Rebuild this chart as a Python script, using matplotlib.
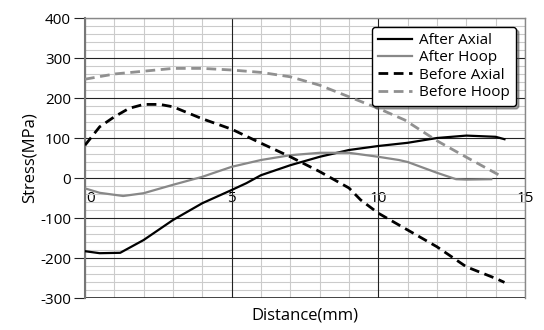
import matplotlib
matplotlib.use("Agg")
import matplotlib.pyplot as plt
from matplotlib.ticker import MultipleLocator
from matplotlib.transforms import ScaledTranslation

plt.rcParams['font.family'] = ['Open Sans', 'DejaVu Sans']
plt.rcParams['axes.unicode_minus'] = False

after_axial_x = [0, 0.5, 1.2, 2, 3, 4, 5, 5.5, 6, 7, 8, 9, 10, 11, 12, 13, 14, 14.3]
after_axial_y = [-183, -188, -187, -155, -105, -63, -30, -13, 7, 32, 53, 70, 80, 88, 100, 106, 103, 97]

after_hoop_x = [0, 0.5, 1.3, 2, 3, 4, 5, 6, 7, 8, 9, 10, 10.7, 11, 12, 12.65, 13, 13.85]
after_hoop_y = [-26, -37, -45, -38, -17, 3, 28, 45, 57, 63, 63, 53, 45, 40, 13, -3, -4, -3]

before_axial_x = [0, 0.5, 1, 1.5, 2, 2.55, 3, 4, 5, 6, 7, 8, 9, 9.4, 10, 11, 12, 13, 14, 14.3]
before_axial_y = [82, 128, 153, 174, 184, 184, 178, 148, 122, 87, 53, 16, -25, -55, -88, -130, -172, -222, -251, -261]

before_hoop_x = [0, 1, 2, 3, 4, 5, 6, 7, 8, 9, 10, 10.9, 12, 13, 14.25]
before_hoop_y = [247, 260, 267, 274, 274, 270, 264, 253, 232, 203, 174, 145, 93, 52, 2]

x_ticks = [0, 5, 10, 15]
y_ticks = [-300, -200, -100, 0, 100, 200, 300, 400]

fig = plt.figure(figsize=(5.44, 3.30), dpi=100)
ax = fig.add_axes([85/544, 1-298/330, 440/544, 280/330])

ax.set_xlim(0, 15)
ax.set_ylim(-300, 400)
ax.set_xticks(x_ticks)
ax.set_yticks(y_ticks)
ax.xaxis.set_minor_locator(MultipleLocator(1))
ax.yaxis.set_minor_locator(MultipleLocator(20))
ax.grid(which='minor', color='#cbcbcb', linewidth=0.8)
ax.set_axisbelow(True)
# major grid drawn above the minor grid
for xv in x_ticks:
    ax.axvline(xv, color='#222222', linewidth=0.8, zorder=0.8)
for yv in y_ticks:
    ax.axhline(yv, color='#222222', linewidth=0.8 if yv != -300 else 1.2, zorder=0.8)

for s in ['top', 'right']:
    ax.spines[s].set_color('#888888')
    ax.spines[s].set_linewidth(1.0)
ax.spines['left'].set_color('#777777')
ax.spines['left'].set_linewidth(1.5)
ax.spines['left'].set_zorder(1.0)
ax.spines['bottom'].set_position(('data', 0))
ax.spines['bottom'].set_visible(False)

ax.tick_params(axis='x', which='both', length=0, pad=9, labelsize=11)
ax.tick_params(axis='y', which='major', length=8, width=0.8, color='#222222', labelsize=11, pad=2)
ax.tick_params(axis='y', which='minor', length=0)

# first x label sits slightly right of the axis
lbl0 = ax.get_xticklabels()[0]
lbl0.set_transform(lbl0.get_transform() + ScaledTranslation(6/100, 0, fig.dpi_scale_trans))

ax.plot(after_axial_x, after_axial_y, color='black', lw=1.6, label='After Axial')
ax.plot(after_hoop_x, after_hoop_y, color='#888888', lw=1.6, label='After Hoop')
ax.plot(before_axial_x, before_axial_y, color='black', lw=2.0, ls=(0, (3.5, 2)), label='Before Axial')
ax.plot(before_hoop_x, before_hoop_y, color='#909090', lw=2.0, ls=(0, (3.5, 2)), label='Before Hoop')

ax.set_xlabel('Distance(mm)', fontsize=12)
ax.xaxis.set_label_coords(0.5, -0.035)
ax.set_ylabel('Stress(MPa)', fontsize=12, labelpad=2)

leg = ax.legend(loc='upper right', bbox_to_anchor=(0.997, 0.995), fontsize=11, frameon=True,
                fancybox=True, shadow=True, handlelength=2.2, handletextpad=0.5,
                labelspacing=0.15, borderpad=0.4, framealpha=1)
leg.get_frame().set_edgecolor('black')
leg.get_frame().set_linewidth(1.0)

fig.savefig('out.png', dpi=100)
